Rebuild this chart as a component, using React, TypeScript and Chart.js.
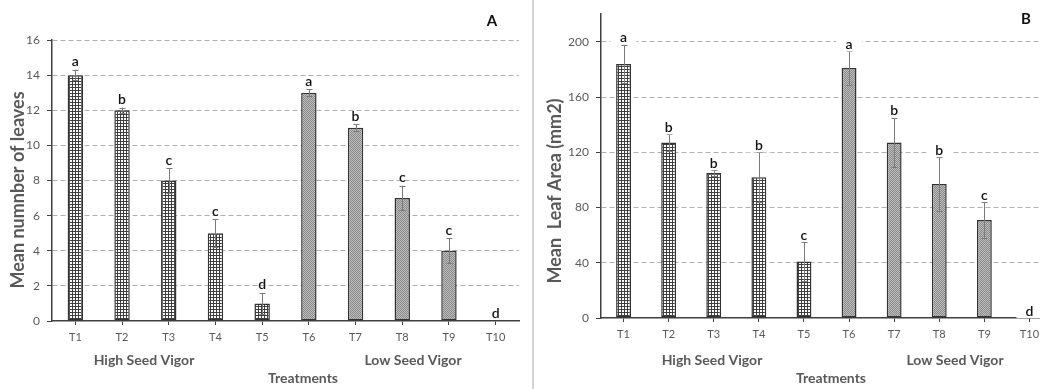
import React, { useEffect, useRef } from "react";
import { Chart, registerables } from "chart.js";

Chart.register(...registerables);

// ---------- data ----------
const categories = ["T1", "T2", "T3", "T4", "T5", "T6", "T7", "T8", "T9", "T10"];
const vigorGroup = ["High", "High", "High", "High", "High", "Low", "Low", "Low", "Low", "Low"];

const leavesMean = [14, 12, 8, 5, 1, 13, 11, 7, 4, 0];
const leavesErr = [0.3, 0.15, 0.7, 0.8, 0.6, 0.2, 0.2, 0.7, 0.7, 0];
const leavesLetters = ["a", "b", "c", "c", "d", "a", "b", "c", "c", "d"];

const areaMean = [184, 127, 105, 102, 41, 181, 127, 97, 71, 0];
const areaErr = [14, 6, 2, 18, 14, 12, 18, 19.5, 13, 0];
const areaLetters = ["a", "b", "b", "b", "c", "a", "b", "b", "c", "d"];

const leavesTitle = "Mean numnber of leaves";
const areaTitle = "Mean  Leaf Area (mm2)";
const groupLabels = ["High Seed Vigor", "Low Seed Vigor"];
const xTitle = "Treatments";

const FONT = "Lato, 'Open Sans', sans-serif";
const GRAY_TEXT = "#595959";
const AXIS = "#404040";

function makeHatch(): CanvasPattern | string {
  const c = document.createElement("canvas");
  c.width = 3;
  c.height = 3;
  const g = c.getContext("2d");
  if (!g) return "#ccc";
  g.fillStyle = "#ffffff";
  g.fillRect(0, 0, 3, 3);
  g.fillStyle = "#3e3e3e";
  g.fillRect(0, 0, 3, 1);
  g.fillRect(0, 0, 1, 3);
  return g.createPattern(c, "repeat") || "#ccc";
}

function makeDots(): CanvasPattern | string {
  const c = document.createElement("canvas");
  c.width = 2;
  c.height = 2;
  const g = c.getContext("2d");
  if (!g) return "#aaa";
  g.fillStyle = "#bdbdbd";
  g.fillRect(0, 0, 2, 2);
  g.fillStyle = "#8a8a8a";
  g.fillRect(0, 0, 1, 1);
  g.fillRect(1, 1, 1, 1);
  return g.createPattern(c, "repeat") || "#aaa";
}

type PanelCfg = {
  means: number[];
  errs: number[];
  letters: string[];
  max: number;
  step: number;
  tickMax: number;
  yTitle: string;
  panel: string;
  padTop: number;
  padRight: number;
  yWidth: number;
  xHeight: number;
  labelOffset: number;
  labelBox: boolean;
  titleX: number;
  titleY: number;
  highX: number;
  lowX: number;
  groupY: number;
  treatX: number;
  treatY: number;
  panelX: number;
  panelY: number;
};

function buildChart(canvas: HTMLCanvasElement, cfg: PanelCfg) {
  const hatch = makeHatch();
  const dots = makeDots();

  const overlay = {
    id: "overlay" + cfg.panel,
    afterDatasetsDraw(chart: any) {
      const ctx = chart.ctx as CanvasRenderingContext2D;
      const xs = chart.scales.x;
      const ys = chart.scales.y;
      ctx.save();
      // error bars
      ctx.strokeStyle = "#7a7a7a";
      ctx.lineWidth = 1;
      cfg.means.forEach((m, i) => {
        const e = cfg.errs[i];
        if (!e) return;
        const x = Math.round(xs.getPixelForValue(i)) + 0.5;
        const y1 = ys.getPixelForValue(m + e);
        const y2 = ys.getPixelForValue(Math.max(0, m - e));
        ctx.beginPath();
        ctx.moveTo(x, y1);
        ctx.lineTo(x, y2);
        ctx.moveTo(x - 3, Math.round(y1) + 0.5);
        ctx.lineTo(x + 3, Math.round(y1) + 0.5);
        ctx.moveTo(x - 3, Math.round(y2) + 0.5);
        ctx.lineTo(x + 3, Math.round(y2) + 0.5);
        ctx.stroke();
      });
      // significance letters
      ctx.font = `600 14px ${FONT}`;
      ctx.textAlign = "center";
      ctx.textBaseline = "middle";
      cfg.letters.forEach((l, i) => {
        const x = xs.getPixelForValue(i);
        const y = ys.getPixelForValue(cfg.means[i] + cfg.errs[i]) - cfg.labelOffset;
        if (cfg.labelBox) {
          ctx.fillStyle = "#ffffff";
          ctx.fillRect(x - 13, y - 7, 26, 14);
        }
        ctx.fillStyle = "#111111";
        ctx.fillText(l, x, y);
      });
      ctx.restore();
    },
    afterDraw(chart: any) {
      const ctx = chart.ctx as CanvasRenderingContext2D;
      ctx.save();
      ctx.fillStyle = GRAY_TEXT;
      ctx.textAlign = "center";
      ctx.textBaseline = "middle";
      // y title
      ctx.save();
      ctx.translate(cfg.titleX, cfg.titleY);
      ctx.rotate(-Math.PI / 2);
      ctx.font = `bold 18px ${FONT}`;
      ctx.fillText(cfg.yTitle, 0, 0);
      ctx.restore();
      // group labels
      ctx.font = `bold 14px ${FONT}`;
      ctx.fillText(groupLabels[0], cfg.highX, cfg.groupY);
      ctx.fillText(groupLabels[1], cfg.lowX, cfg.groupY);
      ctx.fillText(xTitle, cfg.treatX, cfg.treatY);
      // panel letter
      ctx.fillStyle = "#111111";
      ctx.font = `bold 15px ${FONT}`;
      ctx.fillText(cfg.panel, cfg.panelX, cfg.panelY);
      ctx.restore();
    },
  };

  return new Chart(canvas, {
    type: "bar",
    data: {
      labels: categories,
      datasets: [
        {
          data: cfg.means,
          backgroundColor: vigorGroup.map((g) => (g === "High" ? hatch : dots)) as any,
          borderColor: "#333333",
          borderWidth: 1.5,
          borderSkipped: false,
          barPercentage: 0.33,
          categoryPercentage: 1,
        },
      ],
    },
    options: {
      animation: false,
      responsive: false,
      devicePixelRatio: 1,
      events: [],
      layout: { padding: { top: cfg.padTop, right: cfg.padRight, left: 0, bottom: 0 } },
      plugins: {
        legend: { display: false },
        tooltip: { enabled: false },
        title: { display: false },
      },
      scales: {
        x: {
          offset: true,
          grid: {
            display: true,
            drawOnChartArea: false,
            drawTicks: true,
            tickLength: 4,
            offset: false,
            color: AXIS,
          },
          border: { display: true, color: AXIS, width: 1.5 },
          ticks: {
            font: { family: FONT, size: 11 },
            color: GRAY_TEXT,
            padding: 6,
            maxRotation: 0,
            autoSkip: false,
          },
          afterFit: (s: any) => {
            s.height = cfg.xHeight;
          },
        },
        y: {
          min: 0,
          max: cfg.max,
          afterBuildTicks: (s: any) => {
            s.ticks = s.ticks.filter((t: any) => t.value <= cfg.tickMax);
          },
          ticks: {
            stepSize: cfg.step,
            font: { family: FONT, size: 12 },
            color: GRAY_TEXT,
            padding: 7,
          },
          grid: {
            color: (c: any) => (c.tick && c.tick.value === 0 ? "rgba(0,0,0,0)" : "#b0b0b0"),
            lineWidth: 1,
            tickLength: 5,
            tickColor: AXIS,
            tickBorderDash: [],
          },
          border: { display: true, color: AXIS, width: 1.5, dash: [5, 3] },
          afterFit: (s: any) => {
            s.width = cfg.yWidth;
          },
        },
      },
    } as any,
    plugins: [overlay as any],
  });
}

export default function App() {
  const refA = useRef<HTMLCanvasElement | null>(null);
  const refB = useRef<HTMLCanvasElement | null>(null);

  useEffect(() => {
    if (!refA.current || !refB.current) return;
    const a = buildChart(refA.current, {
      means: leavesMean,
      errs: leavesErr,
      letters: leavesLetters,
      max: 16,
      step: 2,
      tickMax: 16,
      yTitle: leavesTitle,
      panel: "A",
      padTop: 40,
      padRight: 14,
      yWidth: 52,
      xHeight: 68,
      labelOffset: 8,
      labelBox: false,
      titleX: 18,
      titleY: 190,
      highX: 144,
      lowX: 413,
      groupY: 360,
      treatX: 303,
      treatY: 378,
      panelX: 492,
      panelY: 21,
    });
    const b = buildChart(refB.current, {
      means: areaMean,
      errs: areaErr,
      letters: areaLetters,
      max: 220,
      step: 40,
      tickMax: 200,
      yTitle: areaTitle,
      panel: "B",
      padTop: 13,
      padRight: 5,
      yWidth: 64,
      xHeight: 71,
      labelOffset: 7,
      labelBox: true,
      titleX: 18,
      titleY: 191,
      highX: 175,
      lowX: 418,
      groupY: 360,
      treatX: 294,
      treatY: 378,
      panelX: 489,
      panelY: 19,
    });
    return () => {
      a.destroy();
      b.destroy();
    };
  }, []);

  return (
    <div
      style={{
        position: "absolute",
        left: 0,
        top: 0,
        width: 1040,
        height: 389,
        overflow: "hidden",
        background: "#ffffff",
      }}
    >
      <div style={{ position: "absolute", left: 0, top: 0, width: 533, height: 389 }}>
        <canvas ref={refA} width={533} height={389} style={{ display: "block", width: 533, height: 389 }} />
      </div>
      <div style={{ position: "absolute", left: 532, top: 0, width: 2, height: 389, background: "#d4d4d4" }} />
      <div style={{ position: "absolute", left: 537, top: 0, width: 520, height: 389 }}>
        <canvas ref={refB} width={520} height={389} style={{ display: "block", width: 520, height: 389 }} />
      </div>
    </div>
  );
}
